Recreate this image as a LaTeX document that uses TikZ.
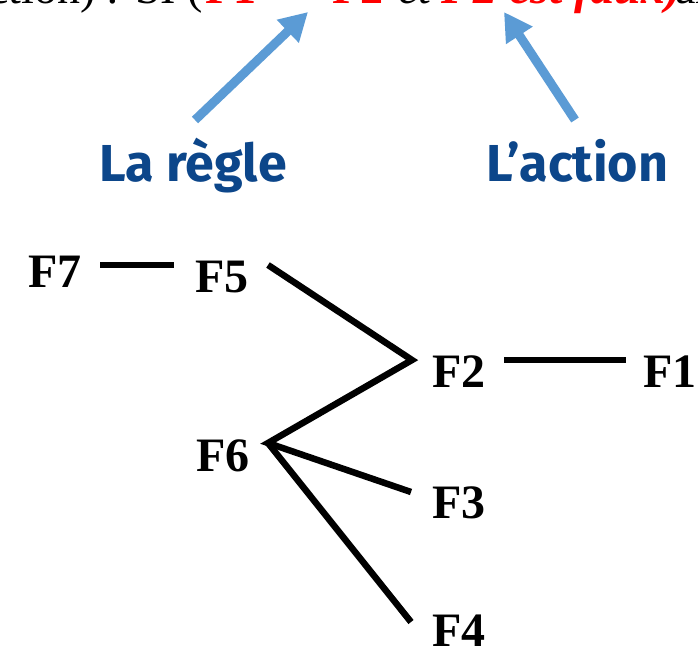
\documentclass[tikz,border=0pt]{standalone}
\usepackage{fontspec}
\setmainfont{Liberation Serif}
\newfontfamily\labelfont{Fira Sans}
\usetikzlibrary{arrows.meta}
\definecolor{labelblue}{RGB}{12,70,138}
\definecolor{arrowblue}{RGB}{91,155,213}
\definecolor{redtxt}{RGB}{255,0,0}
\tikzset{
  fnode/.style={inner sep=0pt, anchor=base west, font=\fontsize{48}{56}\selectfont\bfseries},
  toptxt/.style={inner sep=0pt, anchor=base west, font=\fontsize{46}{54}\selectfont},
  bluelabel/.style={inner sep=0pt, anchor=base west, text=labelblue, font=\labelfont\fontsize{52}{60}\selectfont\bfseries},
  link/.style={line width=6.5pt, black, line cap=butt, line join=miter},
  pointer/.style={line width=9pt, arrowblue, -{Triangle[length=28pt,width=30pt]}}
}
\begin{document}
\begin{tikzpicture}[x=1pt,y=-1pt]
\useasboundingbox (0,0) rectangle (698,651);
\clip (0,0) rectangle (698,651);
% top text (cut off at the top edge)
\node[toptxt, anchor=base east] (t0) at (203,3) {ction) : SI (};
\node[toptxt, text=redtxt, font=\fontsize{46}{54}\selectfont\bfseries] (t1) at (205,3) {F1};
\node[toptxt, text=redtxt, font=\fontsize{46}{54}\selectfont\bfseries] (t2) at (332,3) {F2};
\node[toptxt, font=\fontsize{46}{54}\selectfont\itshape] (t3) at (398,3) {et};
\node[toptxt, text=redtxt, font=\fontsize{48}{56}\selectfont\bfseries\itshape] (t4) at (441,3) {F2 est faux)};
\node[toptxt] (t5) at (675,3) {alors};
% blue labels
\node[bluelabel] (regle) at (99,181) {La règle};
\node[bluelabel] (action) at (486,181) {L’action};
\coordinate (r0) at (195,120);
\coordinate (r1) at (308,12);
\coordinate (a0) at (575,120);
\coordinate (a1) at (504,12);
\draw[pointer] (r0) -- (r1);
\draw[pointer] (a0) -- (a1);
% F nodes
\node[fnode] (F7) at (28,287) {F7};
\node[fnode] (F5) at (195,292) {F5};
\node[fnode] (F2) at (432,387) {F2};
\node[fnode] (F1) at (643,387) {F1};
\node[fnode] (F6) at (196,471) {F6};
\node[fnode] (F3) at (432,518) {F3};
\node[fnode] (F4) at (432,646) {F4};
% junction coordinates
\coordinate (e7) at (100,265);
\coordinate (w5) at (174,265);
\coordinate (e5) at (268,265);
\coordinate (w2) at (412,360);
\coordinate (e2) at (504,360);
\coordinate (w1) at (626,360);
\coordinate (e6) at (268,443);
\coordinate (w3) at (411,492);
\coordinate (w4) at (411,622);
\draw[link] (e7) -- (w5);
\draw[link] (e5) -- (w2) -- (e6) -- (w3);
\draw[link] (e6) -- (w4);
\draw[link] (e2) -- (w1);
\end{tikzpicture}
\end{document}
